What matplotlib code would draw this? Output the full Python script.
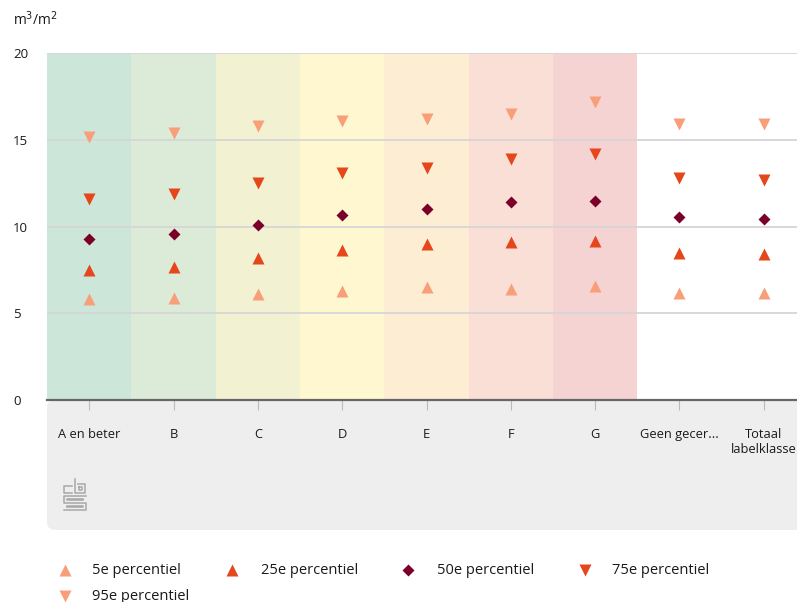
import matplotlib

matplotlib.use("Agg")
import matplotlib.pyplot as plt
from matplotlib.patches import FancyBboxPatch
from matplotlib.lines import Line2D

categories = ["A en beter", "B", "C", "D", "E", "F", "G", "Geen gecer...", "Totaal\nlabelklasse"]
p5 = [5.8, 5.9, 6.1, 6.3, 6.5, 6.4, 6.6, 6.2, 6.2]
p25 = [7.5, 7.7, 8.2, 8.65, 9.0, 9.1, 9.2, 8.5, 8.4]
p50 = [9.3, 9.6, 10.1, 10.7, 11.0, 11.4, 11.5, 10.55, 10.45]
p75 = [11.6, 11.9, 12.5, 13.1, 13.4, 13.9, 14.2, 12.8, 12.7]
p95 = [15.2, 15.4, 15.8, 16.1, 16.2, 16.5, 17.2, 15.9, 15.9]
band_colors = ["#cde6da", "#dcebd8", "#f2f2d3", "#fef7cf", "#fdedd3", "#f9dfd5", "#f6d3d3"]

C_LIGHT = "#f89f7a"
C_MID = "#e5461b"
C_DARK = "#7a0029"

plt.rcParams["font.family"] = ["Open Sans", "DejaVu Sans"]

fig = plt.figure(figsize=(7.97, 6.02), dpi=100)
W, H = 797, 602


def fx(px):
    return px / W


def fy(py):
    return 1 - py / H


# grey panel under the axis
panel = FancyBboxPatch((fx(47), fy(530)), fx(810) - fx(47), fy(400) - fy(530),
                       boxstyle="round,pad=0,rounding_size=0.012",
                       transform=fig.transFigure, facecolor="#eeeeee",
                       edgecolor="none", zorder=-1)
fig.patches.append(panel)

ax = fig.add_axes([fx(47), fy(400), fx(806) - fx(47), fy(53.3) - fy(400)])
ax.set_facecolor("none")
x = list(range(len(categories)))
ax.set_xlim(-0.5, len(categories) - 0.5)
ax.set_ylim(0, 20)

for i, c in enumerate(band_colors):
    ax.axvspan(i - 0.5, i + 0.5, color=c, lw=0, zorder=0)

for yv in [5, 10, 15, 20]:
    ax.axhline(yv, color="#d6d6d6", lw=1.3, zorder=1)

ms = 8
ax.plot(x, p5, ls="none", marker="^", ms=ms, color=C_LIGHT, mec="none", zorder=3)
ax.plot(x, p25, ls="none", marker="^", ms=ms, color=C_MID, mec="none", zorder=3)
ax.plot(x, p50, ls="none", marker="D", ms=6, color=C_DARK, mec="none", zorder=3)
ax.plot(x, p75, ls="none", marker="v", ms=ms, color=C_MID, mec="none", zorder=3)
ax.plot(x, p95, ls="none", marker="v", ms=ms, color=C_LIGHT, mec="none", zorder=3)

for s in ["top", "right", "left"]:
    ax.spines[s].set_visible(False)
ax.spines["bottom"].set_color("#666666")
ax.spines["bottom"].set_linewidth(1.6)
ax.set_yticks([0, 5, 10, 15, 20])
ax.tick_params(axis="y", length=0, pad=24.5, labelsize=9.5, labelcolor="#1a1a1a")
for lab in ax.get_yticklabels():
    lab.set_horizontalalignment("left")
ax.set_xticks(x)
ax.set_xticklabels(categories, fontsize=9.3, color="#1a1a1a", linespacing=1.25, va="top")
ax.tick_params(axis="x", length=7, width=0.8, color="#bbbbbb", pad=13, direction="out")

fig.text(fx(13), fy(20), "m$^3$/m$^2$", fontsize=10, color="#1a1a1a", va="center")

# simple cbs logo outline
logo_lines = [
    [(72, 486), (64, 486), (64, 493), (72, 493)],
    [(75, 479), (75, 493), (85, 493), (85, 484), (78, 484)],
    [(79, 487), (82, 487), (82, 490), (79, 490), (79, 487)],
    [(86, 496), (64, 496), (64, 503), (86, 503), (86, 510), (64, 510)],
    [(83, 499), (67, 499), (67, 500), (83, 500)],
    [(67, 506), (83, 506), (83, 507), (67, 507)],
]
for pts in logo_lines:
    fig.lines.append(Line2D([fx(p[0]) for p in pts], [fy(p[1]) for p in pts],
                            color="#a8a8a8", lw=1.1, transform=fig.transFigure))

# legend (marker x, y, text x)
legend_items = [
    (65, 570, 92, "^", C_LIGHT, 8, "5e percentiel"),
    (232, 570, 261, "^", C_MID, 8, "25e percentiel"),
    (408, 570, 437, "D", C_DARK, 6, "50e percentiel"),
    (585, 570, 612, "v", C_MID, 8, "75e percentiel"),
    (65, 596, 92, "v", C_LIGHT, 8, "95e percentiel"),
]
for px, py, tx, m, col, size, label in legend_items:
    fig.lines.append(Line2D([fx(px)], [fy(py)], marker=m, ms=size, color=col, mec="none",
                            ls="none", transform=fig.transFigure))
    fig.text(fx(tx), fy(py), label, fontsize=10.5, color="#1a1a1a", va="center")

fig.savefig("out.png", dpi=100)
